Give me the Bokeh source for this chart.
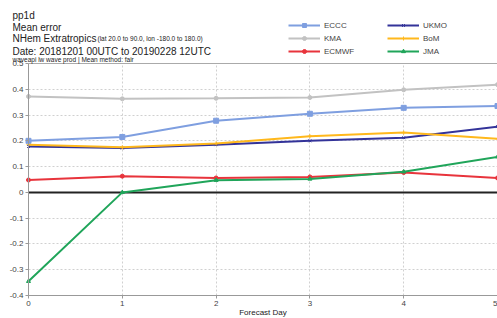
from bokeh.plotting import figure
from bokeh.models import Label, Legend, LegendItem, FixedTicker, Range1d
from bokeh.embed import file_html
from bokeh.resources import INLINE

days = [0, 1, 2, 3, 4, 5]
eccc = [0.200, 0.215, 0.278, 0.305, 0.328, 0.335]
kma = [0.372, 0.363, 0.365, 0.368, 0.398, 0.418]
ecmwf = [0.048, 0.063, 0.056, 0.060, 0.077, 0.056]
ukmo = [0.178, 0.172, 0.185, 0.200, 0.212, 0.255]
bom = [0.185, 0.175, 0.190, 0.218, 0.232, 0.208]
jma = [-0.345, 0.000, 0.047, 0.052, 0.080, 0.138]
y_ticks = [-0.4, -0.3, -0.2, -0.1, 0, 0.1, 0.2, 0.3, 0.4, 0.5]
y_tick_labels = ["-0.4", "-0.3", "-0.2", "-0.1", "0", "0.1", "0.2", "0.3", "0.4", "0.5"]

series = [
    ("ECCC", eccc, "#7f9fe0", "square", 5),
    ("KMA", kma, "#c2c2c2", "circle", 4),
    ("ECMWF", ecmwf, "#e8343c", "circle", 4),
    ("UKMO", ukmo, "#333399", "x", 4),
    ("BoM", bom, "#ffb81c", "cross", 4),
    ("JMA", jma, "#20a55a", "triangle", 4),
]

# canvas layout (pixels)
W, H = 497, 318
LEFT = 28          # px from canvas left to x = 0
RIGHT = 497        # px from canvas left to x = 5
TOP_PX = 63        # px from canvas top to y = 0.5
BOT_PX = 295       # px from canvas top to y = -0.4
x0, x1 = days[0], days[-1]
y0, y1 = y_ticks[0], y_ticks[-1]
sx = (RIGHT - LEFT) / (x1 - x0)
sy = (BOT_PX - TOP_PX) / (y1 - y0)
x_start = x0 - LEFT / sx
x_end = x1 + (W - RIGHT) / sx
y_end = y1 + TOP_PX / sy
y_start = y0 - (H - BOT_PX) / sy

p = figure(output_backend="svg", toolbar_location=None, width=W, height=H,
           min_border_left=0, min_border_right=0, min_border_top=0, min_border_bottom=0,
           x_range=Range1d(x_start, x_end), y_range=Range1d(y_start, y_end))
p.outline_line_color = None
p.background_fill_color = "white"
p.border_fill_color = "white"

for g in (p.xgrid, p.ygrid):
    g.grid_line_color = "#d0d0d0"
    g.grid_line_dash = "2 2"
p.xgrid.ticker = FixedTicker(ticks=days)
p.ygrid.ticker = FixedTicker(ticks=y_ticks[:-1])
p.xgrid.cross_bounds = (y0, y1)
p.ygrid.cross_bounds = (x0, x1)

p.xaxis.ticker = FixedTicker(ticks=days)
p.yaxis.ticker = FixedTicker(ticks=y_ticks)
p.xaxis.bounds = (x0, x1)
p.yaxis.bounds = (y0, y1)
p.xaxis.fixed_location = y0
p.yaxis.fixed_location = x0
p.yaxis.major_label_overrides = {t: l for t, l in zip(y_ticks, y_tick_labels)}
for ax in (p.xaxis, p.yaxis):
    ax.axis_line_color = "#999999"
    ax.major_tick_line_color = "#999999"
    ax.minor_tick_line_color = None
    ax.major_tick_in = 0
    ax.major_tick_out = 3
    ax.major_label_text_font_size = "8px"
    ax.major_label_text_color = "#444444"
    ax.major_label_text_font = "Liberation Sans"
    ax.major_label_standoff = 2

# top border line at 0.5 and bold zero line, both spanning the data range
p.line([x0, x1], [y1, y1], line_color="#aaaaaa", line_width=1)
p.line([x0, x1], [0, 0], line_color="#222222", line_width=2)

items = []
for name, vals, color, marker, size in series:
    r = p.line(days, vals, line_color=color, line_width=2)
    m = p.scatter(days, vals, marker=marker, size=size, fill_color=color, line_color=color)
    items.append(LegendItem(label=name, renderers=[r, m]))

legend = Legend(items=items, ncols=2, location=(288, H - 56), orientation="vertical",
                label_text_font_size="8px", label_text_color="#444444",
                label_text_font="Liberation Sans",
                glyph_width=32, glyph_height=10, label_height=10, label_width=60,
                spacing=3, padding=0, margin=0,
                label_standoff=4, border_line_color=None, background_fill_alpha=0)
p.add_layout(legend, "center")

# header and axis-title texts: (x px from canvas left, baseline px from canvas top, text, size)
texts = [
    (12, 14.5, "pp1d", "10px", "left"),
    (12, 26.5, "Mean error", "10px", "left"),
    (12, 37.5, "NHem Extratropics", "10px", "left"),
    (97, 37.5, "(lat  20.0 to 90.0, lon  -180.0 to  180.0)", "6.5px", "left"),
    (12, 51, "Date: 20181201 00UTC to 20190228 12UTC", "10px", "left"),
    (12, 58.5, "waveapi lw wave prod | Mean method: fair", "6.5px", "left"),
    (LEFT + 2.5 * sx, 312, "Forecast Day", "8px", "center"),
]
for x, yb, t, s, al in texts:
    p.add_layout(Label(x=x, y=H - yb, x_units="screen", y_units="screen", text=t,
                       text_baseline="alphabetic", text_align=al,
                       text_font_size=s, text_color="#222222", text_font="Liberation Sans"))

open("out.html", "w").write(file_html(p, INLINE))
